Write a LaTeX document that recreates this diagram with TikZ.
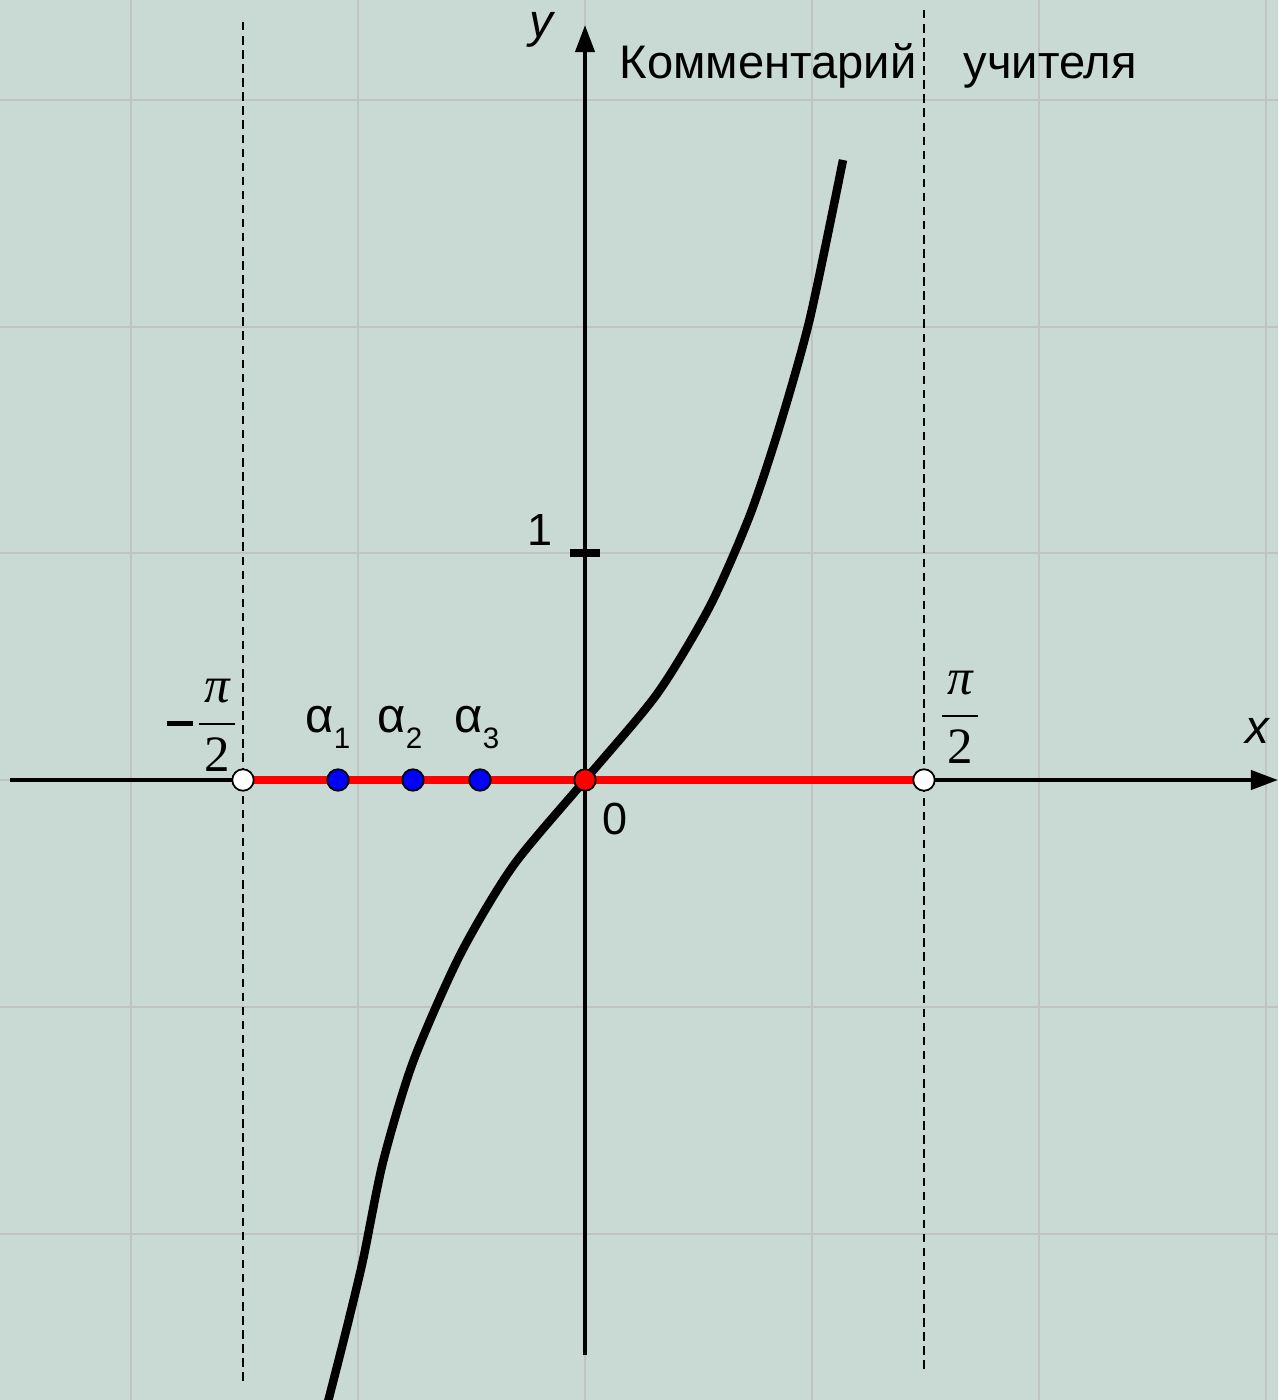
\documentclass[tikz,border=0pt]{standalone}
\usepackage{amsmath}
\usepackage{fontspec}
\setmainfont{Liberation Sans}
\newfontfamily\piFont{Liberation Serif}
\definecolor{tanBack}{HTML}{C9DAD4}
\definecolor{tanGrid}{HTML}{BFC4C2}
\usetikzlibrary{arrows.meta, positioning}
\tikzset{
    grid line/.style={draw=tanGrid, line width=0.6pt},
    axis line/.style={draw=black, line width=1.2pt, -{Triangle[length=7.7pt, width=5.4pt]}},
    asym line/.style={draw=black, line width=0.55pt, dash pattern=on 2.4pt off 1.6pt},
    graph line/.style={draw=black, line width=2.4pt},
    domain line/.style={draw=red, line width=2.4pt},
    open dot/.style={circle, draw=black, fill=white, line width=0.5pt, inner sep=0pt, minimum size=6.1pt},
    alpha dot/.style={circle, draw=black, fill=blue, line width=0.5pt, inner sep=0pt, minimum size=6.1pt},
    zero dot/.style={circle, draw=black, fill=red, line width=0.5pt, inner sep=0pt, minimum size=6.1pt},
    axis label/.style={font=\fontsize{13.5pt}{16pt}\selectfont\itshape, inner sep=0pt},
    num label/.style={font=\fontsize{12.8pt}{15pt}\selectfont, inner sep=0pt},
    alpha label/.style={font=\fontsize{13.9pt}{16pt}\selectfont, inner sep=0pt, anchor=base west},
    pi label/.style={font=\fontsize{14.5pt}{18pt}\selectfont, inner sep=0pt},
    note text/.style={font=\fontsize{13.4pt}{16pt}\selectfont, inner sep=0pt, anchor=base west},
}
\newcommand{\alphaSub}[1]{α\raisebox{-4.8pt}{\fontsize{8.4pt}{10pt}\selectfont #1}}
\newcommand{\halfPi}{\dfrac{\mbox{\piFont\itshape π}}{\mbox{\piFont\hspace{1.6pt}2\hspace{1.6pt}}}}

\begin{document}
\begin{tikzpicture}[x=0.01cm, y=-0.01cm]
    \fill[tanBack] (0,0) rectangle (1278,1400);
    \useasboundingbox (0,0) rectangle (1278,1400);

    \foreach \gx in {131,358,585,812,1039,1266}
        \draw[grid line] (\gx,0) -- (\gx,1400);
    \foreach \gy in {100,327,553,780,1007,1234}
        \draw[grid line] (0,\gy) -- (1278,\gy);

    \coordinate (O) at (585,780);
    \coordinate (xstart) at (10,780);
    \coordinate (xend) at (1278,780);
    \coordinate (ystart) at (585,1355);
    \coordinate (yend) at (585,25);
    \coordinate (left) at (243,780);
    \coordinate (right) at (924,780);

    \draw[asym line] (243,22) -- (243,1385);
    \draw[asym line] (924,10) -- (924,1370);

    \draw[axis line] (xstart) -- (xend);
    \draw[axis line] (ystart) -- (yend);
    \draw[line width=2.2pt] (570,553) -- (600,553);

    \draw[graph line] plot[smooth, tension=0.45] coordinates {
        (322,1425) (345,1335) (363,1260) (383,1162) (413,1062) (460,955)
        (513,866) (585,780) (657,694) (710,606)
        (750,515) (780,425) (810,318) (843,160)};

    \draw[domain line] (left) -- (right);

    \node[open dot] (leftDot) at (left) {};
    \node[open dot] (rightDot) at (right) {};
    \node[alpha dot] (a1) at (338,780) {};
    \node[alpha dot] (a2) at (413,780) {};
    \node[alpha dot] (a3) at (480,780) {};
    \node[zero dot] (zeroDot) at (O) {};

    \node[axis label] (ylab) at (541,30) {y};
    \node[axis label] (xlab) at (1257,731) {x};
    \node[num label] (one) at (540,530) {1};
    \node[num label] (zero) at (615,819) {0};
    \node[note text] (note) at (619,79) {Комментарий\hspace{1.0em}учителя};

    \node[alpha label] (a1lab) at (305,732) {\alphaSub{1}};
    \node[alpha label] (a2lab) at (377,732) {\alphaSub{2}};
    \node[alpha label] (a3lab) at (454,732) {\alphaSub{3}};

    \node[pi label] (halfpi) at (960,717) {$\halfPi$};
    \node[pi label] (minushalfpi) at (203,725) {$\rule[3.1pt]{7.6pt}{1.3pt}\hspace{0.3pt}\halfPi$};
\end{tikzpicture}
\end{document}
